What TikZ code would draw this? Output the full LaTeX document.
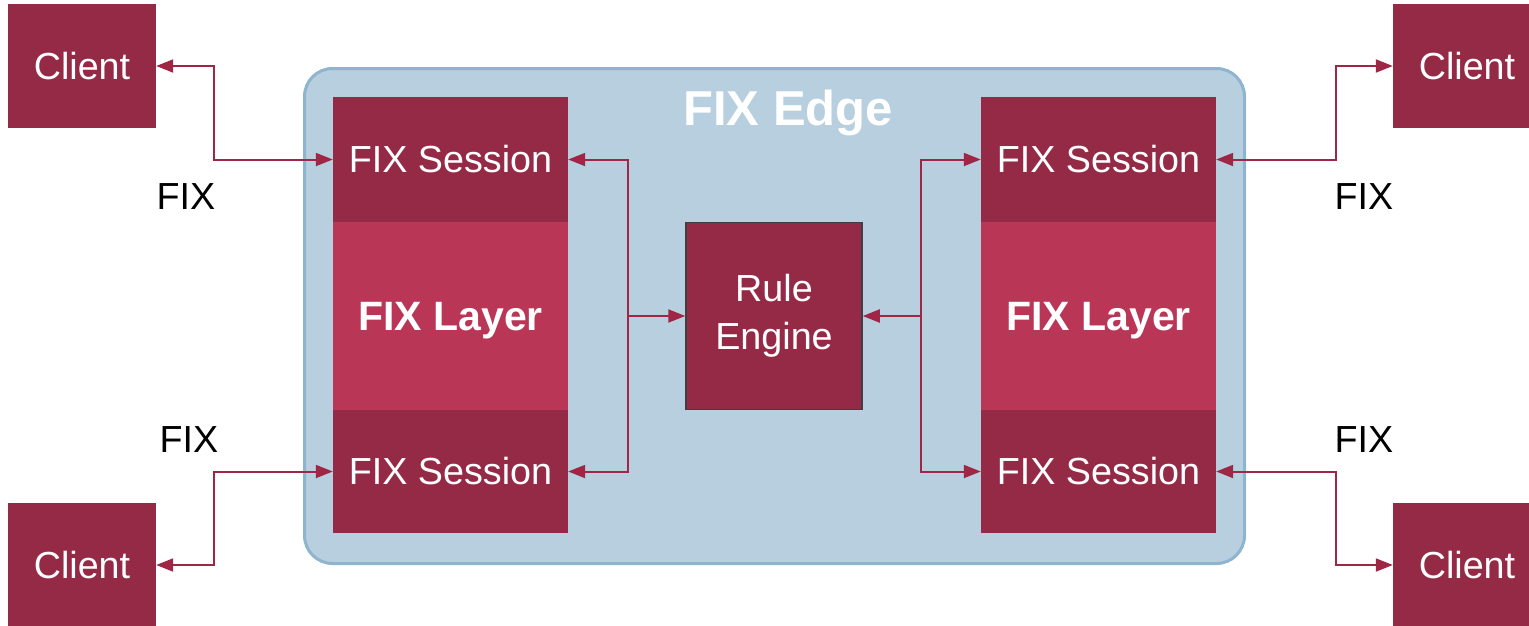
\documentclass[tikz,border=0pt]{standalone}
\usepackage{fontspec}
\setmainfont{Liberation Sans}
\usepackage{tikz}
\usetikzlibrary{arrows.meta}
\definecolor{fixdark}{RGB}{149,42,71}
\definecolor{fixlayer}{RGB}{186,54,86}
\definecolor{edgefill}{RGB}{183,207,222}
\definecolor{edgeline}{RGB}{143,180,206}
\definecolor{linkred}{RGB}{160,38,70}
\tikzset{
  box/.style={fill=fixdark, text=white, inner sep=0pt, align=center,
    font=\fontsize{37.7}{47}\selectfont},
  client/.style={box, minimum width=148pt, minimum height=124pt},
  session/.style={box, minimum width=235pt},
  layer/.style={box, fill=fixlayer, minimum width=235pt, minimum height=188pt,
    text depth=0pt, font=\fontsize{41}{48}\selectfont\bfseries},
  engine/.style={box, draw=black!75, line width=1.5pt, minimum width=176pt, minimum height=187pt,
    font=\fontsize{37.7}{48}\selectfont},
  edgebox/.style={fill=edgefill, draw=edgeline, line width=3pt, rounded corners=28pt},
  link/.style={draw=linkred, line width=2pt, {Triangle[length=17pt,width=13pt]}-{Triangle[length=17pt,width=13pt]}},
  feed/.style={draw=linkred, line width=2pt, -{Triangle[length=17pt,width=13pt]}},
  proto/.style={font=\fontsize{37.7}{47}\selectfont}
}
\begin{document}
\begin{tikzpicture}[x=1pt,y=-1pt]
\clip (0,0) rectangle (1529,625);

\node[edgebox, minimum width=940pt, minimum height=495pt] (edge) at (774.5,316) {};
\node[anchor=base, text=white, inner sep=0pt, font=\fontsize{49}{58}\selectfont\bfseries] (edgetitle) at (788,125) {FIX Edge};

\node[session, minimum height=125pt] (lsess1) at (450.5,159.5) {FIX Session};
\node[layer] (llayer) at (450.5,316) {FIX Layer};
\node[session, minimum height=123pt] (lsess2) at (450.5,471.5) {FIX Session};

\node[session, minimum height=125pt] (rsess1) at (1098.5,159.5) {FIX Session};
\node[layer] (rlayer) at (1098.5,316) {FIX Layer};
\node[session, minimum height=123pt] (rsess2) at (1098.5,471.5) {FIX Session};

\node[engine] (rule) at (774,316) {Rule\\Engine};

\node[client] (lclient1) at (82,66) {Client};
\node[client] (lclient2) at (82,565) {Client};
\node[client] (rclient1) at (1467,66) {Client};
\node[client] (rclient2) at (1467,565) {Client};

\node[proto] (lfix1) at (186,197) {FIX};
\node[proto] (lfix2) at (189,440) {FIX};
\node[proto] (rfix1) at (1364,197) {FIX};
\node[proto] (rfix2) at (1364,440) {FIX};

\coordinate (ljoin) at (628,316);
\coordinate (rjoin) at (921,316);

\draw[link] (lclient1.east) -- ++(58,0) |- (lsess1.west);
\draw[link] (lclient2.east) -- ++(58,0) |- (lsess2.west);
\draw[link] (rclient1.west) -- ++(-57,0) |- (rsess1.east);
\draw[link] (rclient2.west) -- ++(-57,0) |- (rsess2.east);

\draw[link] (lsess1.east) -| (ljoin) |- (lsess2.east);
\draw[feed] (ljoin) -- (rule.west);
\draw[link] (rsess1.west) -| (rjoin) |- (rsess2.west);
\draw[feed] (rjoin) -- (rule.east);
\end{tikzpicture}
\end{document}
